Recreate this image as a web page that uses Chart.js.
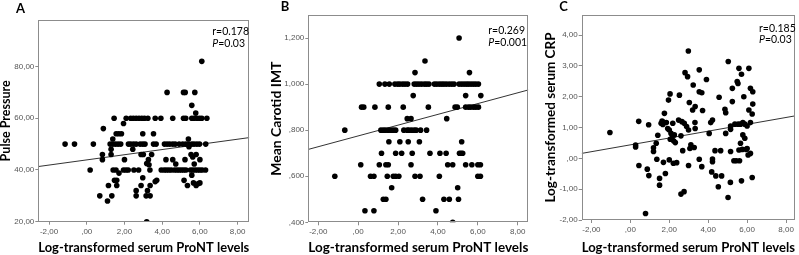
<!DOCTYPE html>
<html>
<head>
<meta charset="utf-8">
<script src="https://cdn.jsdelivr.net/npm/chart.js@4.4.1/dist/chart.umd.min.js"></script>
<style>
html, body { margin: 0; padding: 0; background: #fff; width: 799px; height: 255px; overflow: hidden; }
canvas { position: absolute; top: 0; }
</style>
</head>
<body>
<canvas id="chartA" width="264" height="255" style="left:-2px"></canvas>
<canvas id="chartB" width="272" height="255" style="left:268px"></canvas>
<canvas id="chartC" width="256" height="255" style="left:543px"></canvas>
<script>
// x tick values shared by all three panels
const xTicks = [-2, 0, 2, 4, 6, 8];
const aTicks = [20, 40, 60, 80];
const bTicks = [0.4, 0.6, 0.8, 1.0, 1.2];
const cTicks = [-2, -1, 0, 1, 2, 3, 4];

// A: pulse pressure
const aX = [6.1, 4.26, 5.13, 5.22, 5.73, 5.57, 5.78,
  1.45, 2.09, 2.33, 2.47, 2.62, 2.77, 2.92, 3.06, 3.24, 3.63, 3.93, 4.56, 5.13, 5.25, 5.57, 5.69, 5.84, 5.98, 6.1, 6.37,
  0.88, 1.95,
  1.56, 1.7, 1.84, 2.97, 3.54,
  1.38, 5.39,
  -1.15, -0.65, 0.35, 1.24, 1.38, 1.52, 1.66, 1.8, 2.21, 2.33, 2.48, 2.62, 2.83, 2.97, 3.09, 3.54, 3.68, 4.12, 4.26, 4.4, 4.56, 4.69, 4.9, 5.09, 5.25, 5.39, 5.57, 5.69, 5.84, 5.98, 6.31,
  1.29, 2.44, 5.42, 0.83, 1.29, 2.88, 3.0, 3.44, 5.53, 5.8, 5.62, 0.83, 2.0, 3.27, 4.2, 4.56, 5.21, 6.0, 3.18, 3.3, 4.72, 5.7, 1.71,
  0.18, 1.4, 1.55, 1.95, 2.08, 2.2, 2.5, 2.75, 3.35, 3.95, 4.1, 4.22, 4.35, 4.48, 4.65, 4.78, 4.9, 5.02, 5.14, 5.26, 5.5, 5.62, 5.75, 5.88, 6.0, 6.12, 6.3,
  1.47, 1.59, 1.59, 1.15, 0.69, 1.33, 1.1, 2.62, 2.62, 2.88, 2.97, 3.22, 3.15, 3.36, 3.36, 3.18, 3.63, 3.71, 5.16, 5.34, 5.57, 5.66, 5.8, 5.92, 6.0];
const aY = [82, 70, 70, 70, 70, 65, 62,
  60, 60, 60, 60, 60, 60, 60, 60, 60, 60, 60, 60, 60, 60, 60, 60, 60, 60, 60, 60,
  56, 58,
  54, 54, 54, 54, 54,
  52, 52,
  50, 50, 50, 50, 50, 50, 50, 50, 50, 50, 50, 50, 50, 50, 50, 50, 50, 50, 50, 50, 50, 50, 50, 50, 50, 50, 50, 50, 50, 50, 50,
  48, 48, 49, 46, 46, 46, 46, 46, 46, 46, 45, 44, 44, 44, 44, 44, 44, 44, 42.5, 42, 42.3, 42.3, 38.8,
  40, 40, 40, 40, 40, 40, 40, 40, 40, 40, 40, 40, 40, 40, 40, 40, 40, 40, 40, 40, 40, 40, 40, 40, 40, 40, 40,
  36, 36, 34, 34, 30, 30, 28, 32, 30, 34, 37, 32, 30, 30, 34, 20, 35.5, 36, 36, 34, 38, 35, 34, 34.8, 35];

// B: mean carotid IMT
const bX = [5.06, 3.35, 2.85, 5.58,
  1.06, 1.34, 1.56, 1.84, 1.98, 2.09, 2.23, 2.35, 2.48, 2.81, 2.93, 3.05, 3.18, 3.32, 3.43, 3.55, 3.82, 3.94, 4.07, 4.19, 4.3, 4.42, 4.56, 4.69, 4.81, 5.06, 5.19, 5.31, 5.43, 5.54, 5.66, 5.78, 5.9, 6.03,
  2.76, 5.39, 6.15,
  0.17, 0.28, 0.84, 1.51, 2.26, 3.52, 4.86, 4.97, 5.39, 5.53, 5.64, 5.78, 5.9, 6.03,
  2.46, 2.65, 4.44,
  -0.67, 1.14, 1.26, 1.37, 1.51, 1.64, 1.76, 1.88, 2.29, 2.46, 2.55, 2.68, 2.81, 2.91, 3.13, 3.43,
  1.54, 2.09, 2.51, 3.07, 5.19,
  1.17, 1.88, 2.18, 2.71, 3.6, 4.1, 4.41, 5.08, 5.16, 5.24,
  0.13, 1.06, 1.39, 1.51, 2.65, 4.49, 4.74, 5.39, 5.7, 6.0, 6.13,
  -1.17, 0.62, 0.79, 1.46, 1.76, 1.88, 2.04, 2.85, 3.1, 4.07, 6.0, 6.13,
  1.68, 4.99,
  1.26, 1.39, 3.23, 4.3, 4.57, 5.03,
  0.34, 0.79, 3.9,
  4.74];
const bY = [1.2, 1.1, 1.05, 1.05,
  1.0, 1.0, 1.0, 1.0, 1.0, 1.0, 1.0, 1.0, 1.0, 1.0, 1.0, 1.0, 1.0, 1.0, 1.0, 1.0, 1.0, 1.0, 1.0, 1.0, 1.0, 1.0, 1.0, 1.0, 1.0, 1.0, 1.0, 1.0, 1.0, 1.0, 1.0, 1.0, 1.0, 1.0,
  0.95, 0.95, 0.95,
  0.9, 0.9, 0.9, 0.9, 0.9, 0.9, 0.9, 0.9, 0.9, 0.9, 0.9, 0.9, 0.9, 0.9,
  0.85, 0.85, 0.85,
  0.8, 0.8, 0.8, 0.8, 0.8, 0.8, 0.8, 0.8, 0.8, 0.8, 0.8, 0.8, 0.8, 0.8, 0.8, 0.8,
  0.75, 0.75, 0.75, 0.75, 0.75,
  0.7, 0.7, 0.7, 0.7, 0.7, 0.7, 0.7, 0.7, 0.7, 0.7,
  0.65, 0.65, 0.65, 0.65, 0.65, 0.65, 0.65, 0.65, 0.65, 0.65, 0.65,
  0.6, 0.6, 0.6, 0.6, 0.6, 0.6, 0.6, 0.6, 0.6, 0.6, 0.6, 0.6,
  0.55, 0.55,
  0.5, 0.5, 0.5, 0.5, 0.5, 0.5,
  0.45, 0.45, 0.45,
  0.4];

// C: log-transformed CRP
const cX = [-1.05, 0.27, 0.27, 0.43, 0.44, 0.94, 0.87, 0.95, 0.78, 1.19, 1.19, 1.33, 1.41, 1.36, 1.5, 1.5,
  1.63, 1.58, 1.67, 1.75, 1.7, 1.8, 1.96, 2.04, 1.92, 2.0, 2.0, 2.09, 2.14, 2.23, 2.18, 2.26, 2.21, 2.38, 2.31,
  2.48, 2.52, 2.6, 2.65, 2.77, 2.69, 2.6, 2.76, 2.81, 2.94, 2.98, 2.89, 2.99, 3.03, 2.99, 3.06, 3.11, 3.2, 3.23,
  3.32, 3.33, 3.33, 3.28, 3.54, 3.54, 3.67, 3.54, 3.67, 3.71, 3.91, 4.05, 4.13, 4.22, 4.22, 4.22, 4.18, 4.35,
  4.39, 4.52, 4.56, 4.64, 4.69, 4.86, 4.9, 4.9, 5.02, 5.03, 5.15, 5.15, 5.14, 5.15, 5.24, 5.24, 5.32, 5.37,
  5.44, 5.49, 5.53, 5.54, 5.58, 5.58, 5.61, 5.66, 5.66, 5.71, 5.71, 5.75, 5.78, 5.78, 5.83, 5.88, 5.88, 5.95,
  6.0, 6.05, 6.09, 6.09, 6.17, 6.17, 6.17, 6.26, 6.29, 6.29, 6.26, 6.0, 1.68, 1.85, 2.05];
const cY = [0.84, 0.43, 0.37, 1.2, -0.23, 1.09, -0.35, -0.56, -1.79, 0.34, 0.22, 0.49, 0.75, -0.03, -0.87, -0.65,
  1.21, 1.14, 1.1, 1.46, -0.13, -0.49, 1.89, 2.09, 0.97, 0.92, -0.05, 0.81, 0.65, 0.56, 1.14, 0.76, -0.16, -0.14, 0.51,
  1.24, 2.05, 0.73, 1.19, 1.14, 0.25, -1.16, -1.08, 2.78, 2.65, 3.48, 1.03, 0.92, 1.81, -0.23, 0.32, 0.44, 1.57, 2.38,
  1.16, 1.68, 0.97, 0.35, 2.87, 2.16, 2.13, -0.03, -0.27, 1.55, 2.56, 0.81, 1.16, 1.24, -0.02, -0.11, -0.44, 0.25,
  -0.57, -0.92, 1.98, 0.25, -0.57, 1.59, 1.48, 0.81, -1.27, 3.14, 1.05, 0.94, -0.78, 0.22, 1.84, 2.27, -0.08, 1.11,
  -0.08, 2.49, 2.43, 1.11, 0.27, 2.92, -0.08, 1.11, 0.49, 2.73, -0.73, 0.29, 1.16, 0.76, 2.0, 0.65, 1.11, 0.29,
  1.05, 0.11, 2.92, 1.57, 1.16, 2.27, 0.16, 1.44, 2.16, 1.76, -0.62, 0.32, 1.18, 1.16, 0.62];

// fit lines: [intercept, slope]
const aFit = [43.9, 1.0];
const bFit = [0.775, 0.0234];
const cFit = [0.438, 0.111];

const xLabel = 'Log-transformed serum ProNT levels';

// SPSS style: comma decimals, no leading zero
function fmt(v, d) {
  let s = Math.abs(v).toFixed(d).replace('.', ',');
  if (Math.abs(v) < 1) s = s.slice(1);
  return (v < 0 ? '-' : '') + s;
}

const panelDecor = {
  id: 'panelDecor',
  afterDraw(chart, args, o) {
    const ctx = chart.ctx, a = chart.chartArea;
    ctx.save();
    ctx.strokeStyle = '#8c8c8c';
    ctx.lineWidth = 1;
    ctx.strokeRect(Math.round(a.left) + 0.5, Math.round(a.top) + 0.5,
      Math.round(a.right - a.left) - 1, Math.round(a.bottom - a.top) - 1);
    ctx.fillStyle = '#000';
    ctx.textBaseline = 'middle';
    ctx.textAlign = 'center';
    ctx.font = 'bold 13px Lato';
    ctx.fillText(o.letter, o.letterX, o.letterY);
    ctx.textAlign = 'left';
    const x = a.right - o.statDx;
    ctx.font = '10.5px Lato';
    ctx.fillText('r=' + o.r, x, a.top + o.rDy);
    ctx.font = 'italic 10.5px Lato';
    ctx.fillText('P', x, a.top + o.pDy);
    const w = ctx.measureText('P').width;
    ctx.font = '10.5px Lato';
    ctx.fillText('=' + o.p, x + w, a.top + o.pDy);
    ctx.restore();
  }
};

function makeChart(p) {
  const pts = p.xs.map((x, i) => ({ x: x, y: p.ys[i] }));
  const line = [p.xMin, p.xMax].map(x => ({ x: x, y: p.fit[0] + p.fit[1] * x }));
  return new Chart(document.getElementById(p.id), {
    type: 'scatter',
    data: {
      datasets: [
        { data: pts, pointRadius: 2.8, pointBackgroundColor: '#000', pointBorderWidth: 0 },
        { data: line, showLine: true, borderColor: '#333', borderWidth: 1, pointRadius: 0 }
      ]
    },
    options: {
      responsive: false,
      animation: false,
      events: [],
      layout: { padding: { top: p.padTop, right: p.padRight, left: 0, bottom: 0 } },
      plugins: {
        legend: { display: false },
        tooltip: { enabled: false },
        panelDecor: p.decor
      },
      scales: {
        x: {
          type: 'linear', min: p.xMin, max: p.xMax,
          afterBuildTicks: s => { s.ticks = xTicks.map(v => ({ value: v })); },
          afterFit: s => { s.height = p.axisH; },
          border: { display: false },
          grid: { drawOnChartArea: false, drawTicks: true, tickLength: 3, color: '#8c8c8c' },
          ticks: { font: { family: 'Liberation Sans', size: 8 }, color: '#555', padding: 2, maxRotation: 0, callback: v => fmt(v, 2) },
          title: { display: true, text: xLabel, font: { family: 'Lato', size: 14, weight: 'bold' }, color: '#000', padding: { top: 0, bottom: -1 } }
        },
        y: {
          type: 'linear', min: p.yMin, max: p.yMax,
          afterBuildTicks: s => { s.ticks = p.yTicks.map(v => ({ value: v })); },
          afterFit: s => { s.width = p.axisW; },
          border: { display: false },
          grid: { drawOnChartArea: false, drawTicks: true, tickLength: 3, color: '#8c8c8c' },
          ticks: { font: { family: 'Liberation Sans', size: 8 }, color: '#555', padding: 1, callback: v => fmt(v, p.yDigits) },
          title: { display: true, text: p.yTitle, font: { family: 'Lato', size: p.yTitleSize, weight: 'bold' }, color: '#000', padding: 0 }
        }
      }
    },
    plugins: [panelDecor]
  });
}

makeChart({ id: 'chartA', xs: aX, ys: aY, fit: aFit, xMin: -2.57, xMax: 8.62, yMin: 20, yMax: 98,
  yTicks: aTicks, yDigits: 2, yTitle: 'Pulse Pressure', yTitleSize: 12.5,
  axisW: 40.3, axisH: 33.3, padTop: 20, padRight: 12.7,
  decor: { letter: 'A', letterX: 22.5, letterY: 8.5, r: '0.178', p: '0.03', statDx: 37, rDy: 12, pDy: 24 } });

makeChart({ id: 'chartB', xs: bX, ys: bY, fit: bFit, xMin: -2.5, xMax: 8.53, yMin: 0.4, yMax: 1.3,
  yTicks: bTicks, yDigits: 3, yTitle: 'Mean Carotid IMT', yTitleSize: 14,
  axisW: 40.3, axisH: 32.7, padTop: 15, padRight: 11.7,
  decor: { letter: 'B', letterX: 17, letterY: 7, r: '0.269', p: '0.001', statDx: 40, rDy: 16, pDy: 28 } });

makeChart({ id: 'chartC', xs: cX, ys: cY, fit: cFit, xMin: -2.5, xMax: 8.46, yMin: -2, yMax: 4.65,
  yTicks: cTicks, yDigits: 2, yTitle: 'Log-transformed serum CRP', yTitleSize: 13.5,
  axisW: 38.7, axisH: 35, padTop: 15, padRight: 1.5,
  decor: { letter: 'C', letterX: 20.5, letterY: 7, r: '0.185', p: '0.03', statDx: 36, rDy: 14, pDy: 25 } });
</script>
</body>
</html>
